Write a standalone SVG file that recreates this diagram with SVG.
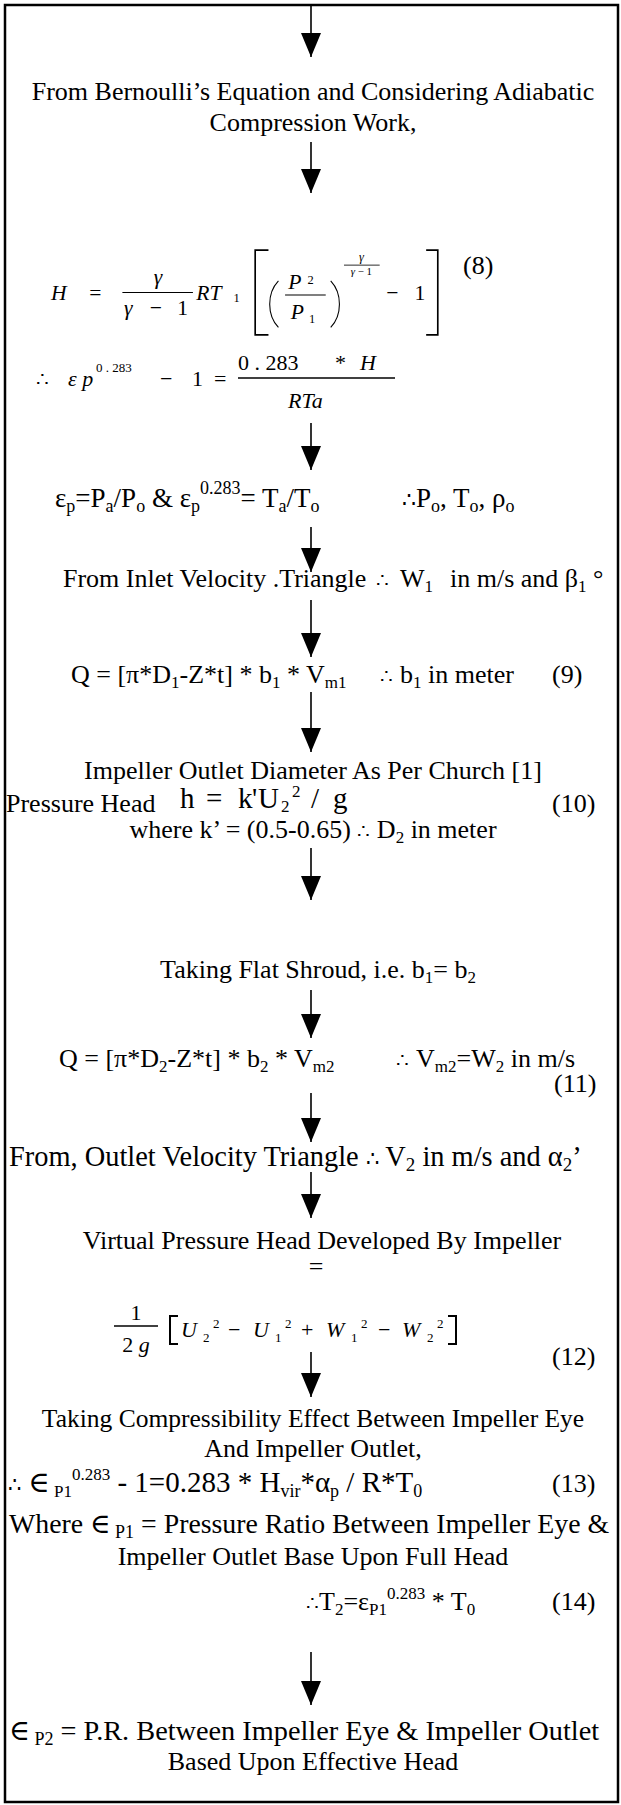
<svg xmlns="http://www.w3.org/2000/svg" width="621" height="1805" viewBox="0 0 621 1805">
<style>
svg{font-family:"Liberation Serif","DejaVu Serif",serif;font-size:26px}
text{fill:#000}
.c{text-anchor:middle}
.i{font-style:italic}
.sm{font-size:15px}
.xs{font-size:13px}
.ln{stroke:#000;stroke-width:1.3;fill:none}
.br{stroke:#000;stroke-width:2;fill:none}
.arr{stroke:#000;stroke-width:1.6;fill:none}
.m{font-size:22px}
.ms{font-size:13px}
</style>
<defs>
<marker id="ah" viewBox="0 0 24 20" refX="24" refY="10" markerWidth="24" markerHeight="20" markerUnits="userSpaceOnUse" orient="auto">
<path d="M0,0 L24,10 L0,20 Z" fill="#000"/>
</marker>
</defs>
<rect id="frame" x="5" y="5" width="613" height="1797" fill="#fff" stroke="#000" stroke-width="2.5"/>
<g id="connectors">
<line class="arr" x1="311" y1="5" x2="311" y2="57" marker-end="url(#ah)"/>
<line class="arr" x1="311" y1="142" x2="311" y2="193" marker-end="url(#ah)"/>
<line class="arr" x1="311" y1="423" x2="311" y2="470" marker-end="url(#ah)"/>
<line class="arr" x1="311" y1="527" x2="311" y2="572" marker-end="url(#ah)"/>
<line class="arr" x1="311" y1="600" x2="311" y2="657" marker-end="url(#ah)"/>
<line class="arr" x1="311" y1="692" x2="311" y2="752" marker-end="url(#ah)"/>
<line class="arr" x1="311" y1="848" x2="311" y2="900" marker-end="url(#ah)"/>
<line class="arr" x1="311" y1="990" x2="311" y2="1038" marker-end="url(#ah)"/>
<line class="arr" x1="311" y1="1093" x2="311" y2="1142" marker-end="url(#ah)"/>
<line class="arr" x1="311" y1="1172" x2="311" y2="1218" marker-end="url(#ah)"/>
<line class="arr" x1="311" y1="1352" x2="311" y2="1397" marker-end="url(#ah)"/>
<line class="arr" x1="311" y1="1652" x2="311" y2="1705" marker-end="url(#ah)"/>
</g>
<g id="n1"><text class="c" x="313" y="100">From Bernoulli’s Equation and Considering Adiabatic</text>
<text class="c" x="313" y="131">Compression Work,</text></g>
<g id="n2">
<g transform="translate(51,300) scale(0.83) translate(-51,-300)">
<text class="i" x="51" y="300">H</text>
<text x="97" y="300">=</text>
<text class="i c" x="180" y="281">γ</text>
<line class="ln" x1="137" y1="291" x2="222" y2="291"/>
<text class="i" x="139" y="318">γ</text><text x="170" y="318">−</text><text x="203" y="318">1</text>
<text class="i" x="226" y="300">RT</text>
<text class="sm" x="271" y="303">1</text>
<path class="br" d="M313,240 H297 V342 H313"/>
<path class="ln" d="M325,277 C311,292 311,318 325,333"/>
<text class="i" x="337" y="287">P</text><text class="sm" x="360" y="281">2</text>
<line class="ln" x1="333" y1="294" x2="382" y2="294"/>
<text class="i" x="340" y="323">P</text><text class="sm" x="362" y="328">1</text>
<path class="ln" d="M388,277 C402,292 402,318 388,333"/>
<text class="i sm c" x="425" y="253">γ</text>
<line x1="404" y1="258" x2="447" y2="258" stroke="#000" stroke-width="1"/>
<text class="xs c" x="425" y="270"><tspan font-style="italic">γ</tspan> − 1</text>
<text x="455" y="300">−</text><text x="489" y="300">1</text>
<path class="br" d="M503,240 H517 V342 H503"/>
</g>
<text x="463" y="274">(8)</text>
</g>
<g id="n3">
<text x="36" y="386" font-size="20">∴</text>
<text class="i m" x="68" y="386">ε p</text>
<text class="ms" x="96" y="372">0 . 283</text>
<text class="m" x="160" y="386">−</text><text class="m" x="192" y="386">1</text><text class="m" x="214" y="386">=</text>
<text class="m" x="238" y="370">0 . 283</text><text class="m" x="335" y="370">*</text><text class="i m" x="360" y="370">H</text>
<line class="ln" x1="238" y1="378" x2="395" y2="378"/>
<text class="i m" x="288" y="408">RTa</text>
</g>
<g id="n4">
<text x="55" y="507" font-size="27">ε<tspan font-size="18" dy="5">p</tspan><tspan dy="-5">=P</tspan><tspan font-size="18" dy="5">a</tspan><tspan dy="-5">/P</tspan><tspan font-size="18" dy="5">o</tspan><tspan dy="-5"> &amp; ε</tspan><tspan font-size="18" dy="5">p</tspan><tspan font-size="18" dy="-18">0.283</tspan><tspan dy="13">= T</tspan><tspan font-size="18" dy="5">a</tspan><tspan dy="-5">/T</tspan><tspan font-size="18" dy="5">o</tspan></text>
<text x="402" y="507" font-size="27"><tspan font-size="22">∴</tspan>P<tspan font-size="18" dy="5">o</tspan><tspan dy="-5">, T</tspan><tspan font-size="18" dy="5">o</tspan><tspan dy="-5">, ρ</tspan><tspan font-size="18" dy="5">o</tspan></text>
</g>
<g id="n5">
<text x="63" y="587">From Inlet Velocity .Triangle</text>
<text x="376" y="587" font-size="20">∴</text>
<text x="400" y="587">W<tspan font-size="17" dy="5">1</tspan></text>
<text x="450" y="587">in m/s and β<tspan font-size="17" dy="5">1</tspan><tspan dy="-5"> °</tspan></text>
</g>
<g id="n6">
<text x="71" y="683">Q = [π*D<tspan font-size="17" dy="5">1</tspan><tspan dy="-5">-Z*t] * b</tspan><tspan font-size="17" dy="5">1</tspan><tspan dy="-5"> * V</tspan><tspan font-size="17" dy="5">m1</tspan></text>
<text x="380" y="683" font-size="20">∴</text>
<text x="400" y="683">b<tspan font-size="17" dy="5">1</tspan><tspan dy="-5"> in meter</tspan></text>
<text x="552" y="683">(9)</text>
</g>
<g id="n7">
<text class="c" x="313" y="779">Impeller Outlet Diameter As Per Church [1]</text>
<text x="6" y="812">Pressure Head</text>
<text x="180" y="808" font-size="29">h</text>
<text x="206" y="808" font-size="29">=</text>
<text x="238" y="808" font-size="29">k</text>
<text x="252" y="808" font-size="29">'</text>
<text x="258" y="808" font-size="29">U</text>
<text x="281" y="812" font-size="17">2</text>
<text x="292" y="797" font-size="17">2</text>
<text x="311" y="808" font-size="29">/</text>
<text x="333" y="808" font-size="29">g</text>
<text x="552" y="812">(10)</text>
<text class="c" x="313" y="838">where k’ = (0.5-0.65)   <tspan font-size="20">∴</tspan> D<tspan font-size="17" dy="5">2</tspan><tspan dy="-5"> in meter</tspan></text>
</g>
<g id="n8">
<text class="c" x="318" y="978">Taking Flat Shroud, i.e.  b<tspan font-size="17" dy="5">1</tspan><tspan dy="-5">= b</tspan><tspan font-size="17" dy="5">2</tspan></text>
</g>
<g id="n9">
<text x="59" y="1067">Q = [π*D<tspan font-size="17" dy="5">2</tspan><tspan dy="-5">-Z*t] * b</tspan><tspan font-size="17" dy="5">2</tspan><tspan dy="-5"> * V</tspan><tspan font-size="17" dy="5">m2</tspan></text>
<text x="396" y="1067" font-size="20">∴</text>
<text x="416" y="1067">V<tspan font-size="17" dy="5">m2</tspan><tspan dy="-5">=W</tspan><tspan font-size="17" dy="5">2</tspan><tspan dy="-5"> in m/s</tspan></text>
<text x="554" y="1092">(11)</text>
</g>
<g id="n10">
<text x="9" y="1166" font-size="28.4">From, Outlet Velocity Triangle  <tspan font-size="21">∴</tspan> V<tspan font-size="19" dy="5">2</tspan><tspan dy="-5">  in m/s and α</tspan><tspan font-size="19" dy="5">2</tspan><tspan dy="-5">’</tspan></text>
</g>
<g id="n11">
<text class="c" x="322" y="1249">Virtual Pressure Head Developed By Impeller</text>
<text class="c" x="316" y="1275">=</text>
<text class="c m" x="136" y="1320">1</text>
<line class="ln" x1="114" y1="1326" x2="158" y2="1326"/>
<text class="c m" x="136" y="1352">2 <tspan font-style="italic">g</tspan></text>
<path class="br" d="M178,1316 H170 V1344 H178"/>
<text class="i m" x="181" y="1337">U</text><text class="ms" x="203" y="1342">2</text><text class="ms" x="213" y="1328">2</text>
<text class="m" x="228" y="1337">−</text>
<text class="i m" x="253" y="1337">U</text><text class="ms" x="275" y="1342">1</text><text class="ms" x="285" y="1328">2</text>
<text class="m" x="301" y="1337">+</text>
<text class="i m" x="326" y="1337">W</text><text class="ms" x="351" y="1342">1</text><text class="ms" x="361" y="1328">2</text>
<text class="m" x="378" y="1337">−</text>
<text class="i m" x="402" y="1337">W</text><text class="ms" x="427" y="1342">2</text><text class="ms" x="437" y="1328">2</text>
<path class="br" d="M448,1316 H456 V1344 H448"/>
<text x="552" y="1365">(12)</text>
</g>
<g id="n12">
<text class="c" x="313" y="1427" font-size="25.5">Taking Compressibility Effect Between Impeller Eye</text>
<text class="c" x="313" y="1457">And Impeller Outlet,</text>
<text x="8" y="1492" font-size="29"><tspan font-size="21">∴</tspan> ∈<tspan font-size="17" dy="5"> P1</tspan><tspan font-size="17" dy="-17">0.283</tspan><tspan dy="12"> - 1=0.283 * H</tspan><tspan font-size="18" dy="5">vir</tspan><tspan dy="-5">*α</tspan><tspan font-size="18" dy="5">p</tspan><tspan dy="-5">  / R*T</tspan><tspan font-size="18" dy="5">0</tspan></text>
<text x="552" y="1492">(13)</text>
<text x="9" y="1533" font-size="27.8">Where ∈<tspan font-size="18" dy="5"> P1</tspan><tspan dy="-5"> = Pressure Ratio Between Impeller Eye &amp;</tspan></text>
<text class="c" x="313" y="1565">Impeller Outlet Base Upon Full Head</text>
<text x="306" y="1610"><tspan font-size="20">∴</tspan>T<tspan font-size="17" dy="5">2</tspan><tspan dy="-5">=ε</tspan><tspan font-size="17" dy="5">P1</tspan><tspan font-size="17" dy="-16">0.283</tspan><tspan dy="11"> * T</tspan><tspan font-size="17" dy="5">0</tspan></text>
<text x="552" y="1610">(14)</text>
</g>
<g id="n13">
<text x="9" y="1740" font-size="28.3">∈<tspan font-size="18" dy="5"> P2</tspan><tspan dy="-5"> = P.R. Between Impeller Eye &amp; Impeller Outlet</tspan></text>
<text class="c" x="313" y="1770">Based Upon Effective Head</text>
</g>
</svg>
